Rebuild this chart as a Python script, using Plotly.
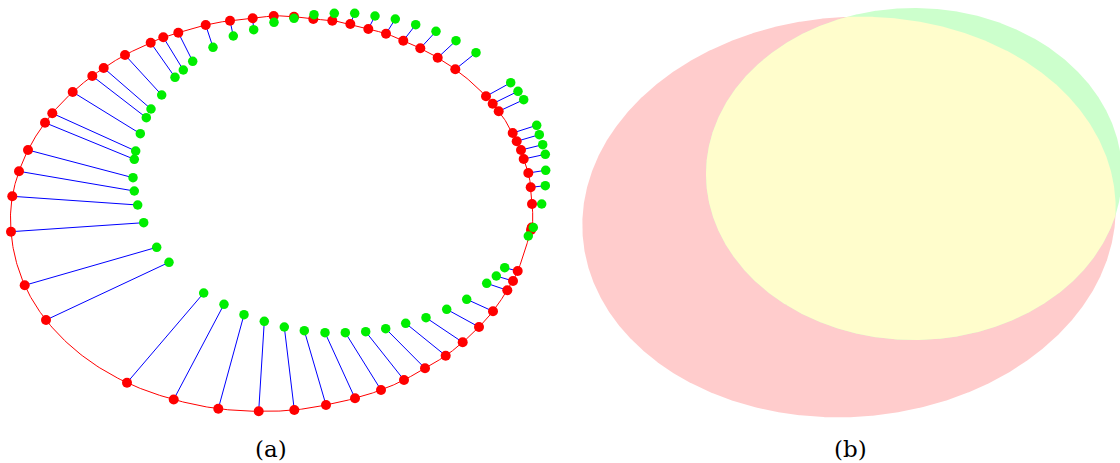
import numpy as np
import plotly.graph_objects as go

# ---- Panel (a): matched point pairs (red on the outer curve, green displaced) ----
red_x = [178.3, 163.3, 150.7, 125.0, 103.7, 92.3, 72.7, 52.3, 45.0, 28.0, 19.0, 12.3, 11.0,
         24.7, 46.0, 127.0, 173.7, 218.3, 258.7, 294.3, 326.0, 355.0, 381.0, 404.0, 425.0,
         445.7, 462.7, 479.0, 493.0, 507.3, 513.0, 517.7, 531.0, 531.7, 532.0, 530.7, 528.3,
         523.7, 521.0, 516.7, 512.7, 498.7, 492.7, 486.0, 455.3, 437.7, 420.3, 403.3, 386.0,
         368.3, 350.3, 332.3, 313.3, 294.0, 273.7, 252.7, 230.0, 205.7]
red_y = [32.7, 37.3, 42.7, 55.0, 68.0, 76.0, 92.0, 113.3, 122.7, 150.0, 171.3, 196.3, 231.7,
         285.3, 320.0, 382.7, 399.5, 408.7, 411.3, 410.0, 405.0, 398.3, 390.0, 380.0, 368.3,
         355.7, 342.3, 327.0, 311.3, 290.3, 281.0, 271.0, 230.0, 227.5, 204.0, 187.3, 173.0,
         159.0, 150.0, 141.3, 133.0, 111.3, 103.7, 96.3, 69.3, 57.7, 48.3, 40.7, 33.7,
         29.0, 24.0, 20.7, 19.0, 16.7, 16.0, 18.3, 20.7, 25.0]
green_x = [192.7, 183.3, 175.0, 161.7, 151.0, 146.3, 140.3, 135.7, 134.3, 133.0, 134.3, 137.7,
           143.7, 156.7, 169.0, 203.7, 224.0, 244.0, 264.3, 284.3, 304.3, 325.0, 345.3, 365.7,
           385.7, 405.7, 426.0, 446.7, 466.7, 486.7, 496.3, 504.7, 528.3, 533.3, 541.7, 545.3,
           545.7, 545.3, 542.7, 539.3, 536.7, 523.7, 518.0, 510.7, 476.0, 456.0, 436.0, 415.7,
           395.3, 375.0, 354.7, 334.3, 314.0, 294.0, 274.0, 253.7, 233.3, 213.0]
green_y = [61.3, 70.0, 77.3, 95.0, 109.0, 117.7, 133.7, 151.0, 159.3, 177.7, 191.0, 205.0,
           222.7, 247.3, 262.3, 293.0, 304.3, 314.7, 321.3, 327.0, 330.7, 332.7, 332.7, 331.7,
           328.7, 323.3, 317.7, 309.3, 299.3, 283.3, 276.0, 267.7, 236.0, 227.5, 204.0, 185.7,
           170.3, 154.3, 144.7, 134.7, 125.3, 99.7, 91.3, 82.7, 52.7, 40.7, 31.3, 24.7,
           19.0, 16.0, 13.3, 13.3, 14.7, 18.3, 22.3, 29.7, 36.0, 47.3]

# ---- Panel (b): two ellipses (centre x, centre y, semi-axis a, semi-axis b, rotation deg) ----
ellipse_red = (849.0, 217.0, 267.0, 200.0, -4.0)
ellipse_green = (914.0, 174.0, 208.0, 166.0, 0.0)
panel_labels = ["(a)", "(b)"]
label_x = [271, 850]


def ellipse_xy(params, n=1500):
    cx, cy, a, b, phi = params
    p = np.deg2rad(phi)
    t = np.linspace(0, 2 * np.pi, n)
    x = cx + a * np.cos(t) * np.cos(p) - b * np.sin(t) * np.sin(p)
    y = cy + a * np.cos(t) * np.sin(p) + b * np.sin(t) * np.cos(p)
    return x, y


def inside(x, y, params):
    cx, cy, a, b, phi = params
    p = np.deg2rad(phi)
    dx, dy = x - cx, y - cy
    u = dx * np.cos(p) + dy * np.sin(p)
    v = -dx * np.sin(p) + dy * np.cos(p)
    return (u / a) ** 2 + (v / b) ** 2 <= 1.0


def periodic_spline(xs, ys, per_seg=30):
    """Closed cubic spline through the given points (chord-length parametrisation)."""
    P = np.column_stack([xs, ys]).astype(float)
    n = len(P)
    h = np.linalg.norm(np.roll(P, -1, axis=0) - P, axis=1) + 1e-6
    A = np.zeros((n, n))
    rhs = np.zeros((n, 2))
    for i in range(n):
        hp = h[i - 1]
        hi = h[i]
        A[i, (i - 1) % n] = hp / 6.0
        A[i, i] = (hp + hi) / 3.0
        A[i, (i + 1) % n] = hi / 6.0
        rhs[i] = (P[(i + 1) % n] - P[i]) / hi - (P[i] - P[i - 1]) / hp
    M = np.linalg.solve(A, rhs)
    out = []
    for i in range(n):
        j = (i + 1) % n
        hi = h[i]
        t = np.linspace(0, hi, per_seg, endpoint=False)[:, None]
        a = (hi - t) / hi
        b = t / hi
        seg = a * P[i] + b * P[j] + ((a ** 3 - a) * M[i] + (b ** 3 - b) * M[j]) * hi ** 2 / 6.0
        out.append(seg)
    out.append(P[:1])
    S = np.vstack(out)
    return S[:, 0], S[:, 1]


fig = go.Figure()

# ellipses of panel (b)
rx, ry = ellipse_xy(ellipse_red)
gx, gy = ellipse_xy(ellipse_green)
fig.add_trace(go.Scatter(x=rx, y=ry, fill="toself", fillcolor="#FFCCCC", mode="lines",
                         line=dict(width=0, color="#FFCCCC"), hoverinfo="skip", showlegend=False))
fig.add_trace(go.Scatter(x=gx, y=gy, fill="toself", fillcolor="#CCFFCC", mode="lines",
                         line=dict(width=0, color="#CCFFCC"), hoverinfo="skip", showlegend=False))
m1 = inside(gx, gy, ellipse_red)
m2 = inside(rx, ry, ellipse_green)
ix = np.concatenate([gx[m1], rx[m2]])
iy = np.concatenate([gy[m1], ry[m2]])
ang = np.arctan2(iy - ellipse_green[1], ix - ellipse_green[0])
order = np.argsort(ang)
ix, iy = ix[order], iy[order]
fig.add_trace(go.Scatter(x=np.append(ix, ix[0]), y=np.append(iy, iy[0]), fill="toself",
                         fillcolor="#FFFDCC", mode="lines", line=dict(width=0, color="#FFFDCC"),
                         hoverinfo="skip", showlegend=False))

# panel (a): smooth closed red curve through red points
sx, sy = periodic_spline(red_x, red_y)
fig.add_trace(go.Scatter(x=sx, y=sy, mode="lines",
                         line=dict(color="#FF0000", width=1),
                         hoverinfo="skip", showlegend=False))

# blue connectors
lx, ly = [], []
for xr, yr, xg, yg in zip(red_x, red_y, green_x, green_y):
    lx += [xr, xg, None]
    ly += [yr, yg, None]
fig.add_trace(go.Scatter(x=lx, y=ly, mode="lines", line=dict(color="#0000FF", width=1),
                         hoverinfo="skip", showlegend=False))

fig.add_trace(go.Scatter(x=red_x, y=red_y, mode="markers",
                         marker=dict(color="#FF0000", size=10, line=dict(width=0)),
                         showlegend=False))
fig.add_trace(go.Scatter(x=green_x, y=green_y, mode="markers",
                         marker=dict(color="#00EE00", size=9.5, line=dict(width=0)),
                         showlegend=False))

for txt, xx in zip(panel_labels, label_x):
    fig.add_annotation(x=xx, y=449, text=txt, showarrow=False, xanchor="center", yanchor="middle",
                       font=dict(family="DejaVu Serif, Liberation Serif, serif", size=23,
                                 color="#000000"))

fig.update_layout(
    width=1120, height=463,
    margin=dict(l=0, r=0, t=0, b=0),
    paper_bgcolor="white", plot_bgcolor="white",
    xaxis=dict(range=[0, 1120], visible=False, fixedrange=True),
    yaxis=dict(range=[463, 0], visible=False, fixedrange=True),
)

fig.write_html("out.html", config={"displayModeBar": False},
               post_script="document.body.style.margin='0';document.body.style.overflow='hidden';")
